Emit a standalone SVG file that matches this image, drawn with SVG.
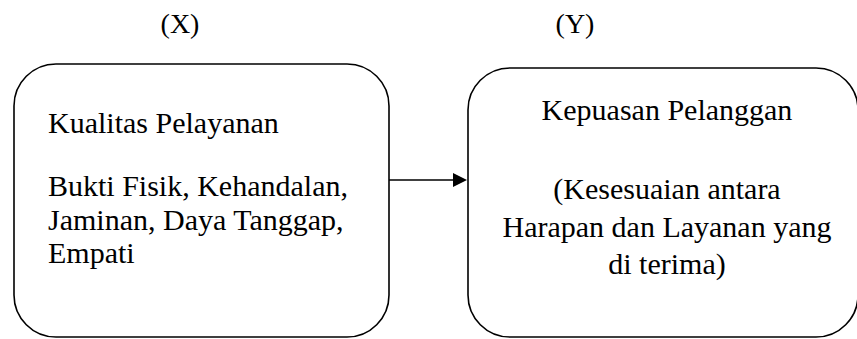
<svg xmlns="http://www.w3.org/2000/svg" width="857" height="339" viewBox="0 0 857 339">
<style>
.box{fill:#fff;stroke:#000;stroke-width:1.6}
.t{font-family:"Liberation Serif","Times New Roman",serif;font-size:30px;fill:#000}
.lbl{font-family:"Liberation Serif","Times New Roman",serif;font-size:28px;fill:#000;text-anchor:middle}
.c{text-anchor:middle}
.edge{stroke:#000;stroke-width:1.6;fill:none}
</style>
<rect width="857" height="339" fill="#fff"/>
<g id="label-x"><text class="lbl" x="180" y="33">(X)</text></g>
<g id="label-y"><text class="lbl" x="575" y="33">(Y)</text></g>
<g id="connectors">
<line class="edge" x1="388" y1="180" x2="453" y2="180"/>
<path d="M453,173 L467,180 L453,187 Z" fill="#000"/>
</g>
<g id="node-x">
<rect class="box" x="14" y="64" width="375" height="273" rx="42" ry="42"/>
<text class="t" x="48" y="133">Kualitas Pelayanan</text>
<text class="t" x="48" y="196">Bukti Fisik, Kehandalan,</text>
<text class="t" x="48" y="230">Jaminan, Daya Tanggap,</text>
<text class="t" x="48" y="263">Empati</text>
</g>
<g id="node-y">
<rect class="box" x="468" y="68" width="390" height="269" rx="42" ry="42"/>
<text class="t c" x="667" y="120">Kepuasan Pelanggan</text>
<text class="t c" x="667" y="199">(Kesesuaian antara</text>
<text class="t c" x="667" y="237">Harapan dan Layanan yang</text>
<text class="t c" x="667" y="274">di terima)</text>
</g>
</svg>
